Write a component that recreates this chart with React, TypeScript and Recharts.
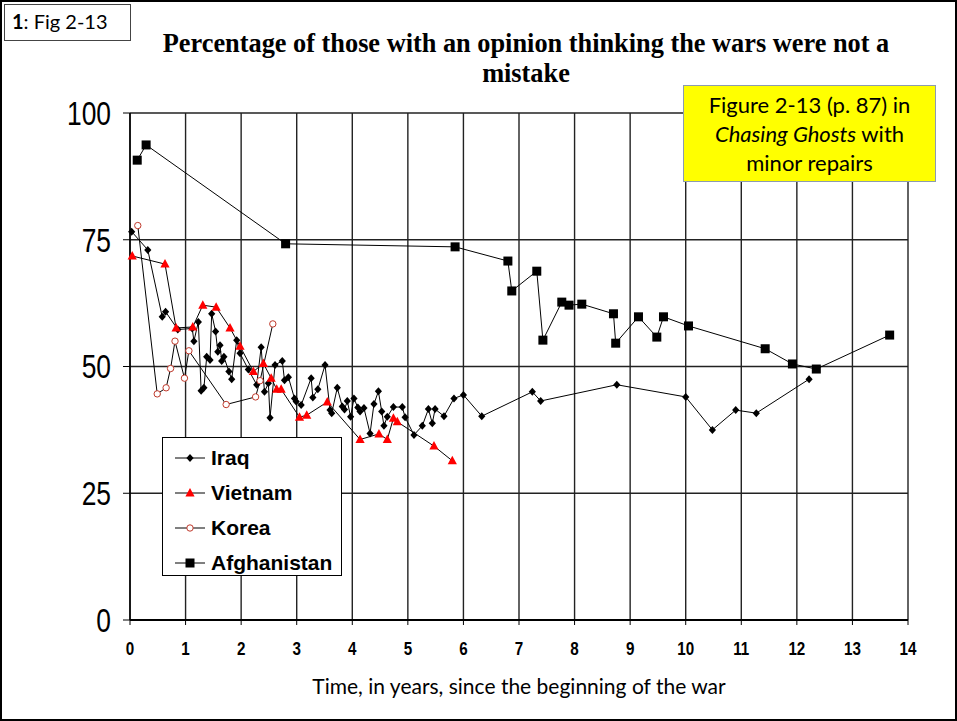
import React from 'react';
import { LineChart, Line, XAxis, YAxis, CartesianGrid } from 'recharts';

// years since start of war / percent "not a mistake"
const iraqYears = [0.03, 0.32, 0.58, 0.64, 0.86, 1.12, 1.15, 1.23, 1.28, 1.33, 1.38, 1.44, 1.47, 1.54, 1.58, 1.62, 1.65, 1.69, 1.78, 1.83, 1.92, 1.98, 2.13, 2.28, 2.36, 2.42, 2.49, 2.52, 2.61, 2.74, 2.78, 2.85, 2.96, 2.99, 3.08, 3.26, 3.29, 3.38, 3.51, 3.6, 3.63, 3.73, 3.82, 3.86, 3.91, 3.97, 4.03, 4.1, 4.14, 4.21, 4.32, 4.39, 4.47, 4.53, 4.57, 4.63, 4.74, 4.9, 4.95, 5.11, 5.26, 5.37, 5.44, 5.49, 5.65, 5.83, 6.0, 6.33, 7.24, 7.39, 8.76, 10.0, 10.48, 10.9, 11.27, 12.22];
const iraqPct = [76.6, 73.0, 59.8, 60.8, 57.3, 57.5, 55.0, 58.8, 45.2, 45.8, 51.9, 51.3, 60.4, 56.9, 52.9, 54.2, 51.1, 51.9, 49.0, 47.5, 55.2, 52.6, 49.4, 46.4, 53.8, 45.0, 46.7, 39.9, 50.3, 51.1, 47.3, 47.9, 43.7, 43.1, 42.4, 47.7, 43.9, 45.5, 50.3, 41.4, 40.8, 45.8, 42.1, 41.5, 43.2, 40.1, 43.7, 41.9, 41.1, 41.8, 36.8, 42.6, 45.1, 41.1, 38.3, 40.1, 42.0, 42.0, 40.0, 36.5, 38.3, 41.6, 38.8, 41.6, 40.2, 43.7, 44.4, 40.2, 45.0, 43.2, 46.4, 44.0, 37.5, 41.4, 40.8, 47.5];

const vietnamYears = [0.04, 0.63, 0.83, 1.13, 1.31, 1.55, 1.8, 1.98, 2.22, 2.4, 2.54, 2.64, 2.72, 3.05, 3.18, 3.55, 4.14, 4.48, 4.63, 4.74, 4.81, 5.47, 5.8];
const vietnamPct = [71.8, 70.2, 57.6, 57.8, 62.1, 61.7, 57.6, 54.0, 49.0, 50.6, 47.7, 45.5, 45.5, 40.0, 40.4, 43.0, 35.6, 36.7, 35.6, 39.8, 39.1, 34.3, 31.4];

const koreaYears = [0.14, 0.49, 0.65, 0.73, 0.81, 0.98, 1.06, 1.73, 2.26, 2.34, 2.57];
const koreaPct = [77.8, 44.6, 45.8, 49.6, 55.0, 47.7, 53.1, 42.5, 44.0, 47.2, 58.4];

const afghanYears = [0.13, 0.29, 2.8, 5.85, 6.8, 6.87, 7.32, 7.43, 7.77, 7.9, 8.13, 8.7, 8.74, 9.15, 9.48, 9.6, 10.05, 11.43, 11.92, 12.35, 13.67];
const afghanPct = [90.7, 93.7, 74.2, 73.6, 70.8, 64.9, 68.8, 55.2, 62.7, 62.1, 62.3, 60.4, 54.6, 59.8, 55.8, 59.8, 58.0, 53.5, 50.5, 49.5, 56.2];

const xTicks = [0, 1, 2, 3, 4, 5, 6, 7, 8, 9, 10, 11, 12, 13, 14];
const yTicks = [0, 25, 50, 75, 100];

const legendNames = ['Iraq', 'Vietnam', 'Korea', 'Afghanistan'];

const zip = (xs: number[], ys: number[]) => xs.map((t, i) => ({ t, v: ys[i] }));

const iraq = zip(iraqYears, iraqPct);
const vietnam = zip(vietnamYears, vietnamPct);
const korea = zip(koreaYears, koreaPct);
const afghanistan = zip(afghanYears, afghanPct);

const SANS = '"Liberation Sans", Arial, sans-serif';
const CAL = 'Lato, "Open Sans", sans-serif';

type DotProps = { cx?: number; cy?: number; index?: number };

const diamond = (p: DotProps) => {
  const { cx = 0, cy = 0 } = p;
  return <path key={`d${p.index}`} d={`M${cx},${cy - 4} L${cx + 3.6},${cy} L${cx},${cy + 4} L${cx - 3.6},${cy} Z`} fill="#000" />;
};
const triangle = (p: DotProps) => {
  const { cx = 0, cy = 0 } = p;
  return <path key={`t${p.index}`} d={`M${cx},${cy - 5} L${cx + 4.6},${cy + 3.5} L${cx - 4.6},${cy + 3.5} Z`} fill="#ff0000" />;
};
const ring = (p: DotProps) => {
  const { cx = 0, cy = 0 } = p;
  return <circle key={`c${p.index}`} cx={cx} cy={cy} r={3.2} fill="#fff" stroke="#c0392b" strokeWidth={1} />;
};
const square = (p: DotProps) => {
  const { cx = 0, cy = 0 } = p;
  return <rect key={`s${p.index}`} x={cx - 4.5} y={cy - 4.5} width={9} height={9} fill="#000" />;
};

const markers = [diamond, triangle, ring, square];

// narrow-looking tick text (no Arial Narrow installed, so squeeze Liberation Sans)
const NarrowTick = (props: any) => {
  const { x, y, payload, textAnchor, size, bold, dy } = props;
  return (
    <g transform={`translate(${x},${y}) scale(0.8,1)`}>
      <text x={0} y={0} dy={dy} textAnchor={textAnchor} fill="#000" fontSize={size} fontWeight={bold ? 'bold' : 'normal'} fontFamily={SANS}>
        {payload.value}
      </text>
    </g>
  );
};

const LegendBox = () => (
  <div style={{ position: 'absolute', left: 162, top: 437, width: 180, height: 139, border: '1px solid #000', background: '#fff', boxSizing: 'border-box' }}>
    {legendNames.map((name, i) => {
      const Mark = markers[i];
      return (
        <div key={name} style={{ position: 'absolute', left: 0, top: 7 + i * 35, height: 26, display: 'flex', alignItems: 'center' }}>
          <svg width={46} height={26}>
            <line x1={12} y1={13} x2={42} y2={13} stroke="#000" strokeWidth={1} />
            {Mark({ cx: 27, cy: 13, index: i })}
          </svg>
          <span style={{ fontFamily: SANS, fontWeight: 'bold', fontSize: 21, marginLeft: 2 }}>{name}</span>
        </div>
      );
    })}
  </div>
);

export default function App() {
  return (
    <div style={{ position: 'relative', width: 957, height: 721, background: '#fff', overflow: 'hidden' }}>
      <style>{'body{margin:0}'}</style>
      <div style={{ position: 'absolute', inset: 0, border: '2px solid #000', boxSizing: 'border-box' }} />
      <div style={{ position: 'absolute', left: 4, top: 4, width: 127, height: 37, border: '1px solid #444', boxSizing: 'border-box', fontFamily: CAL, fontSize: 20, paddingLeft: 7, lineHeight: '33px', whiteSpace: 'nowrap' }}>
        <b>1</b>: Fig 2-13
      </div>
      <div style={{ position: 'absolute', left: 131, top: 28, width: 790, textAlign: 'center', fontFamily: '"Liberation Serif", "Times New Roman", serif', fontWeight: 'bold', fontSize: 28, lineHeight: '30px', transform: 'scaleX(0.94)', transformOrigin: '395px 0' }}>
        Percentage of those with an opinion thinking the wars were not a<br />mistake
      </div>
      <LineChart width={957} height={721} margin={{ top: 113, right: 49, bottom: 71, left: 50 }} style={{ position: 'absolute', left: 0, top: 0 }}>
        <CartesianGrid stroke="#222" strokeWidth={1.4} />
        <XAxis
          type="number"
          dataKey="t"
          domain={[0, 14]}
          ticks={xTicks}
          interval={0}
          height={30}
          tickSize={5}
          tickMargin={23}
          axisLine={{ stroke: '#000', strokeWidth: 2 }}
          tickLine={{ stroke: '#000' }}
          tick={<NarrowTick size={19} bold dy="0.35em" />}
          allowDuplicatedCategory={false}
        />
        <YAxis
          type="number"
          dataKey="v"
          domain={[0, 100]}
          ticks={yTicks}
          interval={0}
          width={80}
          tickSize={7}
          tickMargin={12}
          axisLine={{ stroke: '#000', strokeWidth: 1.5 }}
          tickLine={{ stroke: '#000' }}
          tick={<NarrowTick size={33} dy="0.36em" />}
        />
        <Line data={iraq} dataKey="v" type="linear" stroke="#000" strokeWidth={1} dot={diamond} activeDot={false} isAnimationActive={false} />
        <Line data={vietnam} dataKey="v" type="linear" stroke="#000" strokeWidth={1} dot={triangle} activeDot={false} isAnimationActive={false} />
        <Line data={korea} dataKey="v" type="linear" stroke="#000" strokeWidth={1} dot={ring} activeDot={false} isAnimationActive={false} />
        <Line data={afghanistan} dataKey="v" type="linear" stroke="#000" strokeWidth={1} dot={square} activeDot={false} isAnimationActive={false} />
      </LineChart>
      <div style={{ position: 'absolute', left: 683, top: 85, width: 253, height: 97, background: '#ffff00', border: '1px solid #8c9bb0', boxSizing: 'border-box', textAlign: 'center', fontFamily: CAL, fontSize: 22, lineHeight: '29px', paddingTop: 4, whiteSpace: 'nowrap' }}>
        Figure 2-13 (p. 87) in<br />
        <i>Chasing Ghosts</i> with<br />
        minor repairs
      </div>
      <LegendBox />
      <div style={{ position: 'absolute', left: 130, top: 673, width: 778, textAlign: 'center', fontFamily: CAL, fontSize: 21, whiteSpace: 'nowrap' }}>
        Time, in years, since the beginning of the war
      </div>
    </div>
  );
}
